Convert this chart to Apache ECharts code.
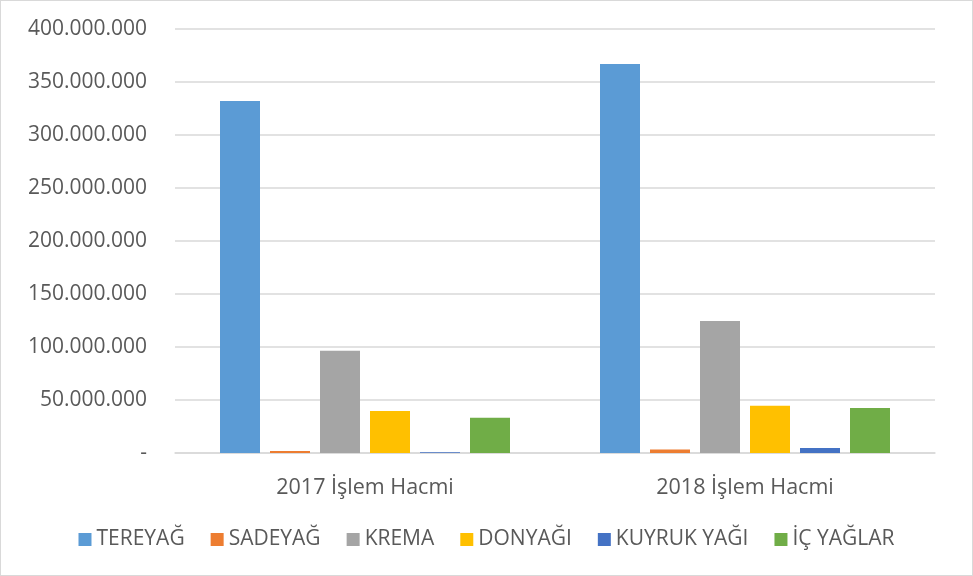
<!DOCTYPE html>
<html><head><meta charset="utf-8">
<script src="https://cdn.jsdelivr.net/npm/echarts@6/dist/echarts.min.js"></script>
<style>
html,body{margin:0;padding:0;background:#fff;}
#c{width:971px;height:574px;border:1px solid #d9d9d9;}
</style></head><body>
<div id="c"></div>
<script>
const categories = ['2017 İşlem Hacmi', '2018 İşlem Hacmi'];
const seriesNames = ['TEREYAĞ', 'SADEYAĞ', 'KREMA', 'DONYAĞI', 'KUYRUK YAĞI', 'İÇ YAĞLAR'];
const tereyag = [332000000, 367000000];
const sadeyag = [1800000, 3200000];
const krema = [96500000, 124500000];
const donyagi = [39600000, 44600000];
const kuyrukYagi = [800000, 4700000];
const icYaglar = [33300000, 42500000];
const colors = ['#5B9BD5', '#ED7D31', '#A5A5A5', '#FFC000', '#4472C4', '#70AD47'];
const values = [tereyag, sadeyag, krema, donyagi, kuyrukYagi, icYaglar];

const font = '"Open Sans", sans-serif';
const chart = echarts.init(document.getElementById('c'));
function fmt(v){
  if (v === 0) return '-';
  return String(v).replace(/\B(?=(\d{3})+(?!\d))/g, '.');
}
chart.setOption({
  animation: false,
  grid: {left: 174, right: 37, top: 28, bottom: 122},
  legend: {
    top: 523, left: 'center', itemWidth: 13, itemHeight: 13, itemGap: 26,
    icon: 'rect',
    textStyle: {color: '#595959', fontSize: 21, fontFamily: font}
  },
  xAxis: {
    type: 'category', data: categories,
    axisLine: {lineStyle: {color: '#d9d9d9', width: 1.5}},
    axisTick: {show: false},
    axisLabel: {color: '#595959', fontSize: 21.5, fontFamily: font, margin: 24}
  },
  yAxis: {
    type: 'value', min: 0, max: 400000000, interval: 50000000,
    axisLine: {show: false}, axisTick: {show: false},
    splitLine: {lineStyle: {color: '#d9d9d9', width: 1.5}},
    axisLabel: {color: '#595959', fontSize: 21, fontFamily: font, margin: 28, formatter: fmt}
  },
  series: seriesNames.map((n, i) => ({
    name: n, type: 'bar', data: values[i], barWidth: 40, barGap: '25%',
    itemStyle: {color: colors[i]}
  }))
});
</script></body></html>
